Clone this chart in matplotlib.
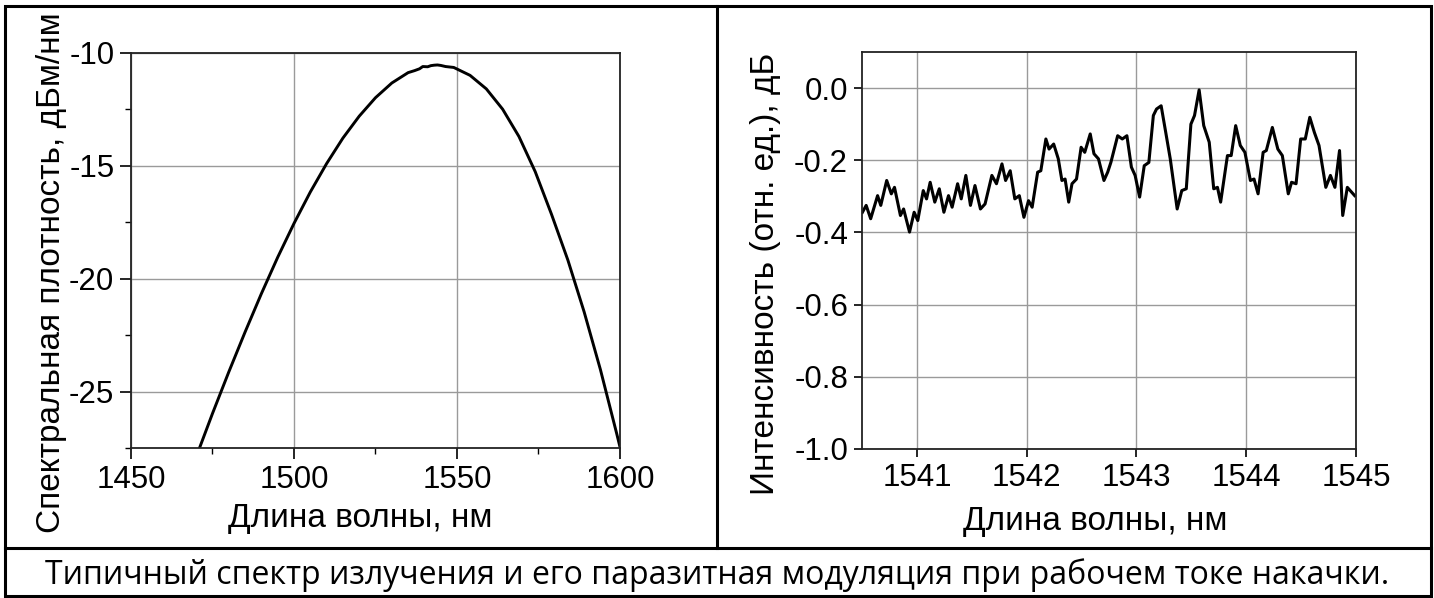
import matplotlib.pyplot as plt
from matplotlib.lines import Line2D
from matplotlib.patches import Rectangle
from matplotlib.ticker import MultipleLocator

plt.rcParams['font.family'] = ['Liberation Sans', 'DejaVu Sans']

# left panel: spectrum, dBm/nm
spec_wl = [1470, 1475, 1480, 1485, 1490, 1495, 1500, 1505, 1510, 1515, 1520,
           1525, 1530, 1535, 1537, 1538.5, 1539.5, 1541, 1542, 1543, 1544, 1545,
           1546.5, 1549, 1554, 1559, 1564, 1569, 1574, 1579, 1584, 1589, 1594,
           1599, 1600]
spec_db = [-27.89, -25.97, -24.13, -22.36, -20.66, -19.05, -17.55, -16.16, -14.90, -13.77, -12.80,
           -11.98, -11.33, -10.87, -10.78, -10.70, -10.60, -10.61, -10.56, -10.54, -10.53, -10.55,
           -10.60, -10.64, -10.99, -11.59, -12.49, -13.70, -15.26, -17.15, -19.17, -21.47, -24.03,
           -26.87, -27.46]

# right panel: parasitic modulation, dB
mod_wl = [1540.504, 1540.538, 1540.579, 1540.642, 1540.671, 1540.725, 1540.767, 1540.796,
          1540.850, 1540.879, 1540.933, 1540.975, 1541.008, 1541.058, 1541.088, 1541.121,
          1541.163, 1541.204, 1541.246, 1541.288, 1541.321, 1541.371, 1541.404, 1541.446,
          1541.488, 1541.529, 1541.579, 1541.621, 1541.683, 1541.725, 1541.775, 1541.808,
          1541.850, 1541.892, 1541.933, 1541.975, 1542.017, 1542.050, 1542.100, 1542.129,
          1542.175, 1542.204, 1542.246, 1542.288, 1542.321, 1542.350, 1542.383, 1542.413,
          1542.454, 1542.496, 1542.529, 1542.579, 1542.613, 1542.654, 1542.704, 1542.738,
          1542.767, 1542.829, 1542.871, 1542.913, 1542.954, 1542.988, 1543.029, 1543.071,
          1543.113, 1543.154, 1543.183, 1543.225, 1543.267, 1543.308, 1543.371, 1543.413,
          1543.454, 1543.496, 1543.529, 1543.571, 1543.613, 1543.663, 1543.704, 1543.738,
          1543.767, 1543.829, 1543.863, 1543.904, 1543.946, 1543.988, 1544.038, 1544.071,
          1544.108, 1544.154, 1544.183, 1544.238, 1544.288, 1544.329, 1544.383, 1544.413,
          1544.454, 1544.496, 1544.538, 1544.579, 1544.621, 1544.663, 1544.725, 1544.767,
          1544.808, 1544.850, 1544.879, 1544.921, 1544.988]
mod_db = [-0.344, -0.325, -0.362, -0.298, -0.325, -0.256, -0.293, -0.275,
          -0.353, -0.335, -0.399, -0.344, -0.367, -0.284, -0.307, -0.261,
          -0.316, -0.279, -0.344, -0.298, -0.330, -0.265, -0.307, -0.242,
          -0.325, -0.270, -0.335, -0.321, -0.242, -0.265, -0.210, -0.256,
          -0.229, -0.307, -0.298, -0.358, -0.312, -0.330, -0.233, -0.229,
          -0.141, -0.169, -0.155, -0.196, -0.256, -0.252, -0.316, -0.265,
          -0.252, -0.164, -0.178, -0.127, -0.182, -0.196, -0.256, -0.233,
          -0.206, -0.132, -0.141, -0.132, -0.219, -0.242, -0.302, -0.215,
          -0.206, -0.076, -0.058, -0.049, -0.123, -0.196, -0.335, -0.284,
          -0.279, -0.100, -0.076, -0.005, -0.104, -0.150, -0.279, -0.275,
          -0.316, -0.187, -0.187, -0.104, -0.159, -0.178, -0.256, -0.252,
          -0.293, -0.178, -0.173, -0.109, -0.169, -0.187, -0.293, -0.261,
          -0.265, -0.141, -0.141, -0.081, -0.123, -0.159, -0.275, -0.242,
          -0.275, -0.173, -0.353, -0.275, -0.298]

left_yticks = [-10, -15, -20, -25]
left_xticks = [1450, 1500, 1550, 1600]
right_yticks = [0.0, -0.2, -0.4, -0.6, -0.8, -1.0]
right_xticks = [1541, 1542, 1543, 1544, 1545]

xlabel = 'Длина волны, нм'
left_ylabel = 'Спектральная плотность, дБм/нм'
right_ylabel = 'Интенсивность (отн. ед.), дБ'
caption = 'Типичный спектр излучения и его паразитная модуляция при рабочем токе накачки.'

W, H = 1434, 598
fig = plt.figure(figsize=(W / 100, H / 100), dpi=100)


def px_axes(x0, y0, x1, y1):
    # pixel box (top-left origin) -> figure fraction axes
    return fig.add_axes([x0 / W, 1 - y1 / H, (x1 - x0) / W, (y1 - y0) / H])


def style(ax):
    ax.grid(True, color='#9a9a9a', linewidth=1.0)
    ax.set_axisbelow(True)
    for sp in ax.spines.values():
        sp.set_linewidth(1.3)
        sp.set_color('#222222')
    ax.tick_params(which='major', direction='out', length=8, width=1.2,
                   labelsize=22.5, pad=4)
    ax.tick_params(which='minor', direction='out', length=4, width=1.0)


ax1 = px_axes(131, 53, 620, 448)
ax1.plot(spec_wl, spec_db, color='black', linewidth=2.1)
ax1.set_xlim(1450, 1600)
ax1.set_ylim(-27.5, -10)
ax1.set_xticks(left_xticks)
ax1.set_yticks(left_yticks)
ax1.set_yticklabels([str(v) for v in left_yticks])
ax1.xaxis.set_minor_locator(MultipleLocator(25))
ax1.yaxis.set_minor_locator(MultipleLocator(2.5))
style(ax1)
ax1.set_xlabel(xlabel, fontsize=24, va='baseline')
ax1.xaxis.set_label_coords(0.469, -0.200)
ax1.set_ylabel(left_ylabel, fontsize=24, va='baseline')
ax1.yaxis.set_label_coords(-0.145, 0.445)

ax2 = px_axes(862, 52, 1356, 449)
ax2.plot(mod_wl, mod_db, color='black', linewidth=2.2)
ax2.set_xlim(1540.5, 1545)
ax2.set_ylim(-1.0, 0.1)
ax2.set_xticks(right_xticks)
ax2.set_yticks(right_yticks)
ax2.set_yticklabels([f'{v:.1f}' for v in right_yticks])
style(ax2)
ax2.tick_params(which='major', length=6)
ax2.set_xlabel(xlabel, fontsize=24, va='baseline')
ax2.xaxis.set_label_coords(0.472, -0.204)
ax2.set_ylabel(right_ylabel, fontsize=24, va='baseline')
ax2.yaxis.set_label_coords(-0.178, 0.442)

# table-like frame
lw = 2.2
fig.add_artist(Rectangle((5 / W, 1 - 596 / H), 1426 / W, 590 / H, transform=fig.transFigure,
                         fill=False, edgecolor='black', linewidth=lw))
fig.add_artist(Line2D([5 / W, 1431 / W], [1 - 548 / H, 1 - 548 / H], transform=fig.transFigure,
                      color='black', linewidth=lw))
fig.add_artist(Line2D([717 / W, 717 / W], [1 - 548 / H, 1 - 6 / H], transform=fig.transFigure,
                      color='black', linewidth=lw))

fig.text(717 / W, 1 - 584 / H, caption, ha='center', va='baseline', fontsize=23,
         family=['Open Sans', 'DejaVu Sans'])

fig.savefig('out.png', dpi=100)
